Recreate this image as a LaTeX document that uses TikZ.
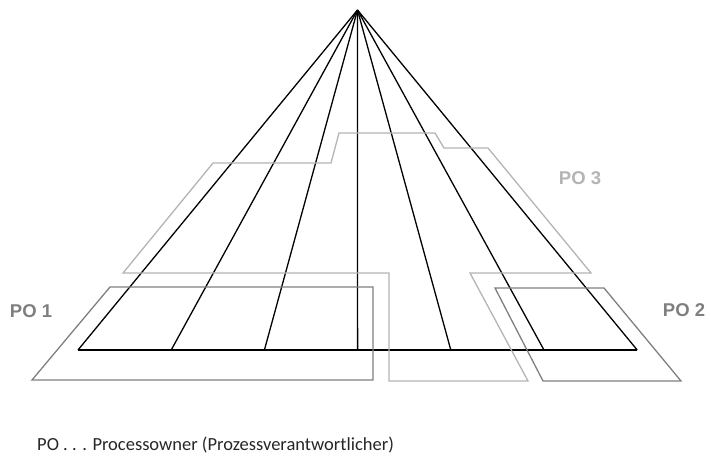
\documentclass[tikz,border=0pt]{standalone}
\usepackage{fontspec}
\setmainfont{Carlito}
\newfontfamily\lblfont{Liberation Sans}
\usetikzlibrary{positioning,calc}
\definecolor{podark}{HTML}{7F7F7F}
\definecolor{polight}{HTML}{B4B4B4}
\tikzset{
  ray/.style={black, line width=1.3pt},
  poframe/.style={line width=1.3pt, line join=miter},
  polabel/.style={font=\lblfont\bfseries\fontsize{18.5}{18.5}\selectfont, inner sep=0pt}
}

\begin{document}
\begin{tikzpicture}[x=1pt, y=-1pt]
\useasboundingbox (0,0) rectangle (711,455);
% apex and base points
\coordinate (top) at (357.5,10);
\foreach \i in {0,...,6}
  \coordinate (b\i) at ({78+93.2*\i},350);
% rays
\foreach \i in {0,...,6}
  \draw[ray] (top) -- (b\i);
\draw[ray] (b0) -- (b6);
% PO 3 --- light frame
\draw[poframe, polight] (213,163) -- (331,163) -- (339,133) -- (435,133) -- (444,148)
  -- (488,148) -- (591,273) -- (470,273) -- (528,381) -- (389,381) -- (389,273)
  -- (123,273) -- cycle;
% PO 1 and PO 2 --- dark frames
\draw[poframe, podark] (110,287) -- (373,287) -- (373,380) -- (32,380) -- cycle;
\draw[poframe, podark] (495,288) -- (604,288) -- (681,381) -- (543,381) -- cycle;
% labels
\node[polabel, podark] (po1) at (31,311) {PO 1};
\node[polabel, podark] (po2) at (684,310) {PO 2};
\node[polabel, polight] (po3) at (580,178) {PO 3};
\node[font=\fontsize{18.5}{19}\selectfont, anchor=base west, inner sep=0pt, text=black!85] (legend) at (37,450)
  {PO . . . Processowner (Prozessverantwortlicher)};
\end{tikzpicture}
\end{document}
